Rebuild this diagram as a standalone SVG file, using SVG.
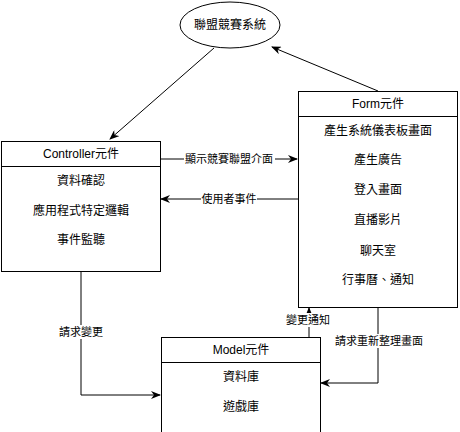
<svg xmlns="http://www.w3.org/2000/svg" width="460" height="432" viewBox="0 0 460 432">
  <style>
    .box { fill: #ffffff; stroke: #000000; stroke-width: 1; }
    .sep { stroke: #000000; stroke-width: 1; }
    .t { font-family: "Liberation Sans", "Noto Sans CJK TC", sans-serif; font-size: 12px; fill: #000000; text-anchor: middle; dominant-baseline: central; }
    .lbl { font-family: "Liberation Sans", "Noto Sans CJK TC", sans-serif; font-size: 11px; fill: #000000; text-anchor: middle; dominant-baseline: central; }
    .edge { fill: none; stroke: #000000; stroke-width: 1; marker-end: url(#arrow); }
    .lblbg { fill: #ffffff; }
  </style>
  <defs>
    <marker id="arrow" viewBox="0 0 10 8" refX="9" refY="4" markerWidth="10" markerHeight="8" markerUnits="userSpaceOnUse" orient="auto">
      <path d="M0,0 L10,4 L0,8 L3,4 z" fill="#000000"/>
    </marker>
  </defs>
  <rect width="460" height="432" fill="#ffffff"/>

  <!-- connectors -->
  <g id="connectors">
    <path class="edge" d="M214,48 L110,139"/>
    <path class="edge" d="M378,91 L272,47"/>
    <path class="edge" d="M160,159 L297,159"/>
    <path class="edge" d="M298,199 L161,199"/>
    <path class="edge" d="M81,271 L81,395 L160,395"/>
    <path class="edge" d="M309,337 L309,308"/>
    <path class="edge" d="M378,307 L378,383 L321,383"/>

    <rect class="lblbg" x="184" y="152" width="91" height="14"/>
    <text class="lbl" x="229" y="159">顯示競賽聯盟介面</text>
    <rect class="lblbg" x="201" y="192" width="56" height="14"/>
    <text class="lbl" x="229" y="199">使用者事件</text>
    <rect class="lblbg" x="58" y="325" width="46" height="14"/>
    <text class="lbl" x="81" y="332">請求變更</text>
    <rect class="lblbg" x="284" y="313" width="48" height="14"/>
    <text class="lbl" x="308" y="320">變更通知</text>
    <rect class="lblbg" x="334" y="334" width="90" height="14"/>
    <text class="lbl" x="379" y="341">請求重新整理畫面</text>
  </g>

  <g id="league-system">
    <ellipse class="box" cx="230" cy="25" rx="50" ry="23"/>
    <text class="t" x="230" y="25">聯盟競賽系統</text>
  </g>

  <g id="controller">
    <rect class="box" x="1.5" y="141.5" width="159" height="130"/>
    <line class="sep" x1="1.5" y1="166.5" x2="160.5" y2="166.5"/>
    <text class="t" x="81" y="154">Controller元件</text>
    <text class="t" x="81" y="181">資料確認</text>
    <text class="t" x="81" y="211">應用程式特定邏輯</text>
    <text class="t" x="81" y="240">事件監聽</text>
  </g>

  <g id="form">
    <rect class="box" x="298.5" y="91.5" width="159" height="216"/>
    <line class="sep" x1="298.5" y1="116.5" x2="457.5" y2="116.5"/>
    <text class="t" x="378" y="104">Form元件</text>
    <text class="t" x="378" y="131">產生系統儀表板畫面</text>
    <text class="t" x="378" y="160">產生廣告</text>
    <text class="t" x="378" y="190">登入畫面</text>
    <text class="t" x="378" y="220">直播影片</text>
    <text class="t" x="378" y="251">聊天室</text>
    <text class="t" x="378" y="280">行事曆、通知</text>
  </g>

  <g id="model">
    <rect class="box" x="161.5" y="337.5" width="159" height="110"/>
    <line class="sep" x1="161.5" y1="362.5" x2="320.5" y2="362.5"/>
    <text class="t" x="241" y="350">Model元件</text>
    <text class="t" x="241" y="377">資料庫</text>
    <text class="t" x="241" y="407">遊戲庫</text>
  </g>
</svg>
